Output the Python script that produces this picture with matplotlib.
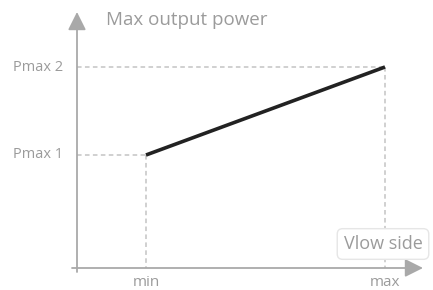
import matplotlib
matplotlib.use("Agg")
import matplotlib.pyplot as plt

plt.rcParams['font.family'] = ['Open Sans', 'DejaVu Sans']

# data
x_labels = ["min", "max"]
y_labels = ["Pmax 1", "Pmax 2"]
x_vals = [1, 2]
y_vals = [1, 2]

W, H = 433, 290
fig = plt.figure(figsize=(W / 100, H / 100), dpi=100)
ax = fig.add_axes([0, 0, 1, 1])
ax.axis("off")

# pixel layout -> data limits (min at px 146, max at px 385; Pmax1 at py 155, Pmax2 at py 67)
bx = (385 - 146) / (x_vals[1] - x_vals[0])
ax.set_xlim(x_vals[0] - 146 / bx, x_vals[0] + (W - 146) / bx)
by = (155 - 67) / (y_vals[1] - y_vals[0])
ax.set_ylim(y_vals[0] - (H - 155) / by, y_vals[0] + 155 / by)

axis_col = "#a9a9a9"
text_col = "#9b9b9b"
dash_col = "#c4c4c4"


def fx(px):
    return px / W


def fy(py):
    return 1 - py / H


# axes with arrows
arrow = dict(arrowstyle="-|>,head_length=1.1,head_width=0.55",
             color=axis_col, lw=1.3, shrinkA=0, shrinkB=0)
ax.annotate("", xy=(fx(77), fy(12)), xytext=(fx(77), fy(272)),
            xycoords="axes fraction", textcoords="axes fraction", arrowprops=arrow)
ax.annotate("", xy=(fx(423), fy(268)), xytext=(fx(72), fy(268)),
            xycoords="axes fraction", textcoords="axes fraction", arrowprops=arrow)

y0, y1 = ax.get_ylim()
x0, x1 = ax.get_xlim()
x_axis_y = y0 + (y1 - y0) * fy(268)
y_axis_x = x0 + (x1 - x0) * fx(77)

# dashed guides
for xv, yv in zip(x_vals, y_vals):
    ax.plot([y_axis_x, xv], [yv, yv], color=dash_col, lw=1.1, dashes=(3, 2.2))
    ax.plot([xv, xv], [yv, x_axis_y], color=dash_col, lw=1.1, dashes=(3, 2.2))

# main line
ax.plot(x_vals, y_vals, color="#222222", lw=2.6, solid_capstyle="butt", zorder=3)

# tick labels
for yv, lab in zip(y_vals, y_labels):
    ax.text(y_axis_x - 0.06, yv, lab, ha="right", va="center", fontsize=10.5, color=text_col)
for xv, lab in zip(x_vals, x_labels):
    ax.text(xv, y0 + (y1 - y0) * fy(283), lab, ha="center", va="center",
            fontsize=11, color=text_col)

ax.text(fx(106), fy(20), "Max output power", transform=ax.transAxes,
        ha="left", va="center", fontsize=13.5, color=text_col)

ax.text(fx(383), fy(244), "Vlow side", transform=ax.transAxes,
        ha="center", va="center", fontsize=13, color=text_col,
        bbox=dict(boxstyle="round,pad=0.35,rounding_size=0.3", fc="white",
                  ec="#e6e6e6", lw=1), zorder=4)

fig.savefig("out.png", dpi=100)
